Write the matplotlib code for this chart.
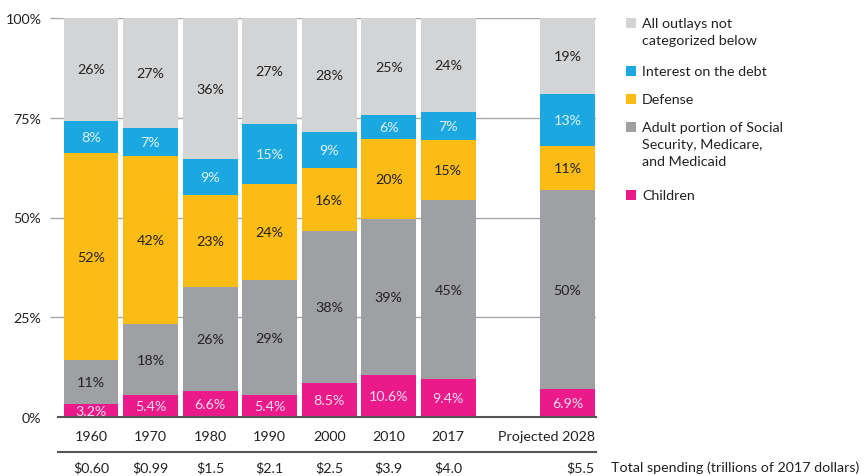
import matplotlib
matplotlib.use("Agg")
import matplotlib.pyplot as plt
from matplotlib.patches import Rectangle
import numpy as np

plt.rcParams['font.family'] = ['Lato', 'DejaVu Sans']

# data (shares of federal outlays, %)
years = ["1960", "1970", "1980", "1990", "2000", "2010", "2017", "Projected 2028"]
positions = [0, 1, 2, 3, 4, 5, 6, 8]
totals = ["$0.60", "$0.99", "$1.5", "$2.1", "$2.5", "$3.9", "$4.0", "$5.5"]

children = [3.2, 5.4, 6.6, 5.4, 8.5, 10.6, 9.4, 6.9]
adult = [11, 18, 26, 29, 38, 39, 45, 50]
defense = [52, 42, 23, 24, 16, 20, 15, 11]
interest = [8, 7, 9, 15, 9, 6, 7, 13]
other = [26, 27, 36, 27, 28, 25, 24, 19]

series = [children, adult, defense, interest, other]
colors = ["#ea1a8a", "#9fa0a3", "#fbbc15", "#1ba7e0", "#d3d4d6"]
text_colors = ["#f9dcec", "#222222", "#222222", "#e2f2fb", "#222222"]
legend_labels = ["Children",
                 "Adult portion of Social\nSecurity, Medicare,\nand Medicaid",
                 "Defense",
                 "Interest on the debt",
                 "All outlays not\ncategorized below"]
FS = 10.3
DARK = "#222222"

fig = plt.figure(figsize=(8.68, 4.77), dpi=100)
ax = fig.add_axes([58 / 868, 1 - 418 / 477, 538 / 868, 399 / 477])

W = 0.923
bottom = np.zeros(len(years))
for i, (vals, c, tc) in enumerate(zip(series, colors, text_colors)):
    vals = np.array(vals, dtype=float)
    # top segment fills up to 100 (labels may not sum exactly)
    heights = 100 - bottom if i == len(series) - 1 else vals
    ax.bar(positions, heights, bottom=bottom, width=W, color=c, zorder=2)
    for x, b, h, v in zip(positions, bottom, heights, vals):
        ax.text(x, b + h / 2, f"{v:g}%", ha="center", va="center",
                fontsize=FS, color=tc, zorder=3)
    bottom = bottom + heights

ax.set_xlim(-0.554, 8.48)
ax.set_ylim(0, 100)
ax.set_yticks([0, 25, 50, 75, 100])
ax.set_yticklabels(["0%", "25%", "50%", "75%", "100%"], fontsize=FS, color=DARK)
ax.tick_params(axis="y", length=6, width=1, color="#a8a8a8", pad=6)
ax.yaxis.get_major_ticks()[0].tick1line.set_visible(False)
ax.set_xticks([])
for y in [25, 50, 75, 100]:
    ax.axhline(y, color="#a8a8a8", lw=1, zorder=1)
for s in ["top", "right", "left"]:
    ax.spines[s].set_visible(False)
ax.spines["bottom"].set_color("#555555")
ax.spines["bottom"].set_linewidth(1.5)
ax.spines["bottom"].set_zorder(4)

# year labels, separator and totals under the bars
to_y = lambda px: 1 - px / 477
for x, yr, tot in zip(positions, years, totals):
    xf = ax.transData.transform((x, 0))[0] / 868
    if yr.startswith("Projected"):
        xr = ax.transData.transform((x + W / 2, 0))[0] / 868
        fig.text(xr, to_y(437), yr, ha="right", va="center", fontsize=FS, color=DARK)
        fig.text(xr, to_y(468), tot, ha="right", va="center", fontsize=FS, color=DARK)
    else:
        fig.text(xf, to_y(437), yr, ha="center", va="center", fontsize=FS, color=DARK)
        fig.text(xf, to_y(468), tot, ha="center", va="center", fontsize=FS, color=DARK)
fig.add_artist(plt.Line2D([58 / 868, 596 / 868], [to_y(453), to_y(453)],
                          color="#555555", lw=1.5))
fig.text(611 / 868, to_y(468), "Total spending (trillions of 2017 dollars)",
         ha="left", va="center", fontsize=10.3, color=DARK)

# legend drawn by hand, top entry first
legend_y = [196, 128, 100, 72, 24]
for lab, c, yc in zip(legend_labels, colors, legend_y):
    fig.add_artist(Rectangle((626 / 868, to_y(yc + 5)), 10 / 868, 10 / 477,
                             transform=fig.transFigure, color=c, lw=0))
    fig.text(642 / 868, to_y(yc - 6), lab, ha="left", va="top", fontsize=FS,
             color=DARK, linespacing=1.5)

fig.savefig("out.png", dpi=100)
